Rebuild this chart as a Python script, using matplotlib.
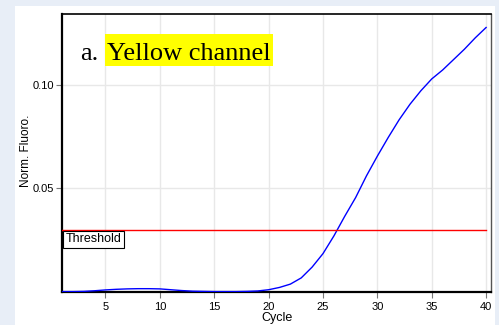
import matplotlib
matplotlib.use('Agg')
import matplotlib.pyplot as plt
from matplotlib.patches import Rectangle

# data
cycles = list(range(1, 41))
fluoro = [0.0002, 0.0002, 0.0003, 0.0006, 0.0010, 0.0013, 0.0015, 0.0016, 0.0016, 0.0015,
          0.0011, 0.0007, 0.0004, 0.0003, 0.0002, 0.0002, 0.0002, 0.0003, 0.0005, 0.0011,
          0.0022, 0.0038, 0.0068, 0.0120, 0.0185, 0.0270, 0.0365, 0.0455, 0.0560, 0.0655,
          0.0745, 0.0830, 0.0905, 0.0970, 0.1027, 0.1070, 0.1120, 0.1170, 0.1225, 0.1275]
threshold = 0.03
xticks = [5, 10, 15, 20, 25, 30, 35, 40]
yticks = [0.05, 0.10]
ytick_labels = ['0.05', '0.10']

W, H = 499, 325
fig = plt.figure(figsize=(W / 100, H / 100), dpi=100)
fig.patch.set_facecolor('#e8eef7')

# white panel behind the chart
fig.patches.append(Rectangle((15 / W, 0), (495 - 15) / W, (H - 6) / H,
                             transform=fig.transFigure, facecolor='white',
                             edgecolor='none', zorder=0))

ax = fig.add_axes([62 / W, (H - 292) / H, (491 - 62) / W, (292 - 14) / H], zorder=1)
ax.set_facecolor('white')

ax.plot(cycles, fluoro, color='#0000ff', lw=1.0, zorder=3)
ax.plot([cycles[0], cycles[-1]], [threshold, threshold], color='#ff0000', lw=1.0, zorder=3)

ax.set_xlim(1, 40.45)
ax.set_ylim(0, 0.134)
ax.set_xticks(xticks)
ax.set_yticks(yticks)
ax.set_yticklabels(ytick_labels)
ax.grid(True, color='#e8e8e8', lw=1.0)
ax.set_axisbelow(True)

sans = ['Liberation Sans', 'DejaVu Sans']
ax.tick_params(axis='both', direction='out', length=4, width=0.8, color='#777777',
               labelsize=8, pad=1.5)
ax.tick_params(axis='x', pad=3)
for lab in ax.get_xticklabels() + ax.get_yticklabels():
    lab.set_family(sans)

ax.set_xlabel('Cycle', fontsize=9, family=sans, labelpad=0.5)
ax.set_ylabel('Norm. Fluoro.', fontsize=8.5, family=sans)
ax.yaxis.set_label_coords(-0.070, 0.509)

for side in ['left', 'bottom']:
    ax.spines[side].set_linewidth(1.6)
    ax.spines[side].set_color('black')
ax.spines['top'].set_linewidth(1.2)
ax.spines['top'].set_color('black')
ax.spines['right'].set_linewidth(1.0)
ax.spines['right'].set_color('#555555')

ax.text(1.3, 0.0282, 'Threshold', fontsize=9, family=sans, va='top', ha='left',
        bbox=dict(boxstyle='square,pad=0.2', facecolor='white', edgecolor='black', lw=0.8),
        zorder=4)

# title with yellow highlight
ax.add_patch(Rectangle((105 / W, (H - 66) / H), (273 - 105) / W, 32 / H,
                       transform=fig.transFigure, facecolor='#ffff00', edgecolor='none',
                       zorder=5, clip_on=False))
serif = ['Liberation Serif', 'DejaVu Serif']
fig.text(80 / W, (H - 60) / H, 'a.', fontsize=19, family=serif, va='baseline', ha='left',
         zorder=6)
fig.text(107 / W, (H - 60) / H, 'Yellow channel', fontsize=19, family=serif,
         va='baseline', ha='left', zorder=6)

fig.savefig('out.png', dpi=100, facecolor=fig.get_facecolor())
